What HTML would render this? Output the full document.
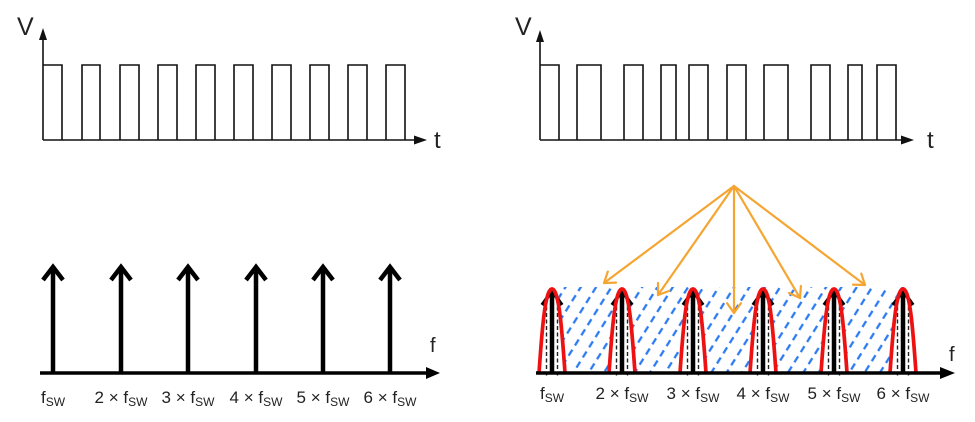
<!DOCTYPE html>
<html>
<head>
<meta charset="utf-8">
<style>
html,body{margin:0;padding:0;background:#fff;}
svg{display:block;}
text{font-family:"Liberation Sans",Arial,sans-serif;fill:#222;}
</style>
</head>
<body>
<svg width="975" height="422" viewBox="0 0 975 422" xmlns="http://www.w3.org/2000/svg">
<defs>
  <pattern id="hatch" width="26" height="12" patternUnits="userSpaceOnUse" patternTransform="translate(556,290) rotate(32)">
    <line x1="6.5" y1="0" x2="6.5" y2="12" stroke="#2c7bf2" stroke-width="2.3" stroke-dasharray="7 5"/>
    <line x1="19.5" y1="0" x2="19.5" y2="12" stroke="#2c7bf2" stroke-width="2.3" stroke-dasharray="7 5" stroke-dashoffset="6"/>
  </pattern>
</defs>
<rect width="975" height="422" fill="#fff"/>

<!-- ===== Top-left time waveform ===== -->
<text x="17" y="35" font-size="25">V</text>
<line x1="43" y1="140" x2="43" y2="38" stroke="#111" stroke-width="1.6"/>
<polygon points="43,28 39,40 47,40" fill="#111"/>
<line x1="43" y1="140" x2="415" y2="140" stroke="#111" stroke-width="1.6"/>
<polygon points="427,140 414,135.5 414,144.5" fill="#111"/>
<text x="434" y="148" font-size="24">t</text>
<path d="M43,65 H62 V140 M82,140 V65 H100 V140 M120,140 V65 H139 V140 M158,140 V65 H177 V140 M196,140 V65 H215 V140 M234,140 V65 H253 V140 M272,140 V65 H291 V140 M310,140 V65 H329 V140 M348,140 V65 H367 V140 M386,140 V65 H405 V140" fill="none" stroke="#111" stroke-width="1.6"/>

<!-- ===== Top-right time waveform ===== -->
<text x="515" y="35" font-size="25">V</text>
<line x1="540" y1="140" x2="540" y2="40" stroke="#111" stroke-width="1.6"/>
<polygon points="540,30 536,42 544,42" fill="#111"/>
<line x1="540" y1="140" x2="902" y2="140" stroke="#111" stroke-width="1.6"/>
<polygon points="914,140 901,135.5 901,144.5" fill="#111"/>
<text x="927" y="148" font-size="24">t</text>
<path d="M540,65 H559 V140 M577,140 V65 H601 V140 M624,140 V65 H643 V140 M661,140 V65 H676 V140 M689,140 V65 H708 V140 M727,140 V65 H746 V140 M764,140 V65 H788 V140 M811,140 V65 H830 V140 M848,140 V65 H862 V140 M877,140 V65 H896 V140" fill="none" stroke="#111" stroke-width="1.6"/>

<!-- ===== Bottom-left spectrum ===== -->
<line x1="40" y1="373" x2="428" y2="373" stroke="#000" stroke-width="3.5"/>
<polygon points="440,373 426,367 426,379" fill="#000"/>
<text x="430" y="352" font-size="20">f</text>
<g stroke="#000" stroke-width="4.5" fill="none" stroke-linejoin="miter">
  <line x1="53" y1="373" x2="53" y2="268"/><polyline points="43,280 53,267 63,280"/>
  <line x1="121" y1="373" x2="121" y2="268"/><polyline points="111,280 121,267 131,280"/>
  <line x1="188" y1="373" x2="188" y2="268"/><polyline points="178,280 188,267 198,280"/>
  <line x1="256" y1="373" x2="256" y2="268"/><polyline points="246,280 256,267 266,280"/>
  <line x1="323" y1="373" x2="323" y2="268"/><polyline points="313,280 323,267 333,280"/>
  <line x1="390" y1="373" x2="390" y2="268"/><polyline points="380,280 390,267 400,280"/>
</g>
<g font-size="17" text-anchor="middle">
  <text x="53" y="403">f<tspan font-size="12" dy="3">SW</tspan></text>
  <text x="121" y="403">2 × f<tspan font-size="12" dy="3">SW</tspan></text>
  <text x="188" y="403">3 × f<tspan font-size="12" dy="3">SW</tspan></text>
  <text x="256" y="403">4 × f<tspan font-size="12" dy="3">SW</tspan></text>
  <text x="323" y="403">5 × f<tspan font-size="12" dy="3">SW</tspan></text>
  <text x="390" y="403">6 × f<tspan font-size="12" dy="3">SW</tspan></text>
</g>

<!-- ===== Bottom-right spectrum ===== -->
<rect x="552" y="287" width="352" height="85" fill="url(#hatch)"/>

<g id="peaks">
  <g transform="translate(552,0)">
    <path d="M-13,373 C-10,330 -7,289 0,289 C7,289 10,330 13,373 Z" fill="#fff"/>
    <line x1="-5.5" y1="300" x2="-5.5" y2="378" stroke="#222" stroke-width="1.4" stroke-dasharray="4 2.5"/>
    <line x1="5.5" y1="300" x2="5.5" y2="378" stroke="#222" stroke-width="1.4" stroke-dasharray="4 2.5"/>
    <line x1="0" y1="373" x2="0" y2="292" stroke="#000" stroke-width="4.5"/>
    <polyline points="-10,305 0,291 10,305" fill="none" stroke="#000" stroke-width="3.5"/>
    <path d="M-13,373 C-10,330 -7,289 0,289 C7,289 10,330 13,373" fill="none" stroke="#ee1111" stroke-width="3.7"/>
  </g>
  <g transform="translate(622,0)">
    <path d="M-13,373 C-10,330 -7,289 0,289 C7,289 10,330 13,373 Z" fill="#fff"/>
    <line x1="-5.5" y1="300" x2="-5.5" y2="378" stroke="#222" stroke-width="1.4" stroke-dasharray="4 2.5"/>
    <line x1="5.5" y1="300" x2="5.5" y2="378" stroke="#222" stroke-width="1.4" stroke-dasharray="4 2.5"/>
    <line x1="0" y1="373" x2="0" y2="292" stroke="#000" stroke-width="4.5"/>
    <polyline points="-10,305 0,291 10,305" fill="none" stroke="#000" stroke-width="3.5"/>
    <path d="M-13,373 C-10,330 -7,289 0,289 C7,289 10,330 13,373" fill="none" stroke="#ee1111" stroke-width="3.7"/>
  </g>
  <g transform="translate(693,0)">
    <path d="M-13,373 C-10,330 -7,289 0,289 C7,289 10,330 13,373 Z" fill="#fff"/>
    <line x1="-5.5" y1="300" x2="-5.5" y2="378" stroke="#222" stroke-width="1.4" stroke-dasharray="4 2.5"/>
    <line x1="5.5" y1="300" x2="5.5" y2="378" stroke="#222" stroke-width="1.4" stroke-dasharray="4 2.5"/>
    <line x1="0" y1="373" x2="0" y2="292" stroke="#000" stroke-width="4.5"/>
    <polyline points="-10,305 0,291 10,305" fill="none" stroke="#000" stroke-width="3.5"/>
    <path d="M-13,373 C-10,330 -7,289 0,289 C7,289 10,330 13,373" fill="none" stroke="#ee1111" stroke-width="3.7"/>
  </g>
  <g transform="translate(763,0)">
    <path d="M-13,373 C-10,330 -7,289 0,289 C7,289 10,330 13,373 Z" fill="#fff"/>
    <line x1="-5.5" y1="300" x2="-5.5" y2="378" stroke="#222" stroke-width="1.4" stroke-dasharray="4 2.5"/>
    <line x1="5.5" y1="300" x2="5.5" y2="378" stroke="#222" stroke-width="1.4" stroke-dasharray="4 2.5"/>
    <line x1="0" y1="373" x2="0" y2="292" stroke="#000" stroke-width="4.5"/>
    <polyline points="-10,305 0,291 10,305" fill="none" stroke="#000" stroke-width="3.5"/>
    <path d="M-13,373 C-10,330 -7,289 0,289 C7,289 10,330 13,373" fill="none" stroke="#ee1111" stroke-width="3.7"/>
  </g>
  <g transform="translate(834,0)">
    <path d="M-13,373 C-10,330 -7,289 0,289 C7,289 10,330 13,373 Z" fill="#fff"/>
    <line x1="-5.5" y1="300" x2="-5.5" y2="378" stroke="#222" stroke-width="1.4" stroke-dasharray="4 2.5"/>
    <line x1="5.5" y1="300" x2="5.5" y2="378" stroke="#222" stroke-width="1.4" stroke-dasharray="4 2.5"/>
    <line x1="0" y1="373" x2="0" y2="292" stroke="#000" stroke-width="4.5"/>
    <polyline points="-10,305 0,291 10,305" fill="none" stroke="#000" stroke-width="3.5"/>
    <path d="M-13,373 C-10,330 -7,289 0,289 C7,289 10,330 13,373" fill="none" stroke="#ee1111" stroke-width="3.7"/>
  </g>
  <g transform="translate(903,0)">
    <path d="M-13,373 C-10,330 -7,289 0,289 C7,289 10,330 13,373 Z" fill="#fff"/>
    <line x1="-5.5" y1="300" x2="-5.5" y2="378" stroke="#222" stroke-width="1.4" stroke-dasharray="4 2.5"/>
    <line x1="5.5" y1="300" x2="5.5" y2="378" stroke="#222" stroke-width="1.4" stroke-dasharray="4 2.5"/>
    <line x1="0" y1="373" x2="0" y2="292" stroke="#000" stroke-width="4.5"/>
    <polyline points="-10,305 0,291 10,305" fill="none" stroke="#000" stroke-width="3.5"/>
    <path d="M-13,373 C-10,330 -7,289 0,289 C7,289 10,330 13,373" fill="none" stroke="#ee1111" stroke-width="3.7"/>
  </g>
</g>

<line x1="536" y1="373" x2="941" y2="373" stroke="#000" stroke-width="3.5"/>
<polygon points="955,373 940,367 940,379" fill="#000"/>
<text x="949" y="361" font-size="20">f</text>

<g font-size="17" text-anchor="middle">
  <text x="552" y="399">f<tspan font-size="12" dy="3">SW</tspan></text>
  <text x="622" y="399">2 × f<tspan font-size="12" dy="3">SW</tspan></text>
  <text x="693" y="399">3 × f<tspan font-size="12" dy="3">SW</tspan></text>
  <text x="763" y="399">4 × f<tspan font-size="12" dy="3">SW</tspan></text>
  <text x="834" y="399">5 × f<tspan font-size="12" dy="3">SW</tspan></text>
  <text x="903" y="399">6 × f<tspan font-size="12" dy="3">SW</tspan></text>
</g>

<!-- Orange arrows -->
<g stroke="#f5a532" stroke-width="2.2" fill="none" stroke-linecap="round" stroke-linejoin="round">
  <line x1="734" y1="186" x2="604" y2="283"/>
  <polyline points="616,282.6 604,283 607.8,271.6"/>
  <line x1="734" y1="186" x2="658" y2="295"/>
  <polyline points="669.3,290.9 658,295 658,283"/>
  <line x1="734" y1="186" x2="734" y2="313"/>
  <polyline points="727.1,303.2 734,313 740.9,303.2"/>
  <line x1="734" y1="186" x2="800" y2="298"/>
  <polyline points="789.1,293 800,298 800.9,286"/>
  <line x1="734" y1="186" x2="865" y2="285"/>
  <polyline points="861.3,273.6 865,285 853,284.6"/>
</g>
</svg>
</body>
</html>
